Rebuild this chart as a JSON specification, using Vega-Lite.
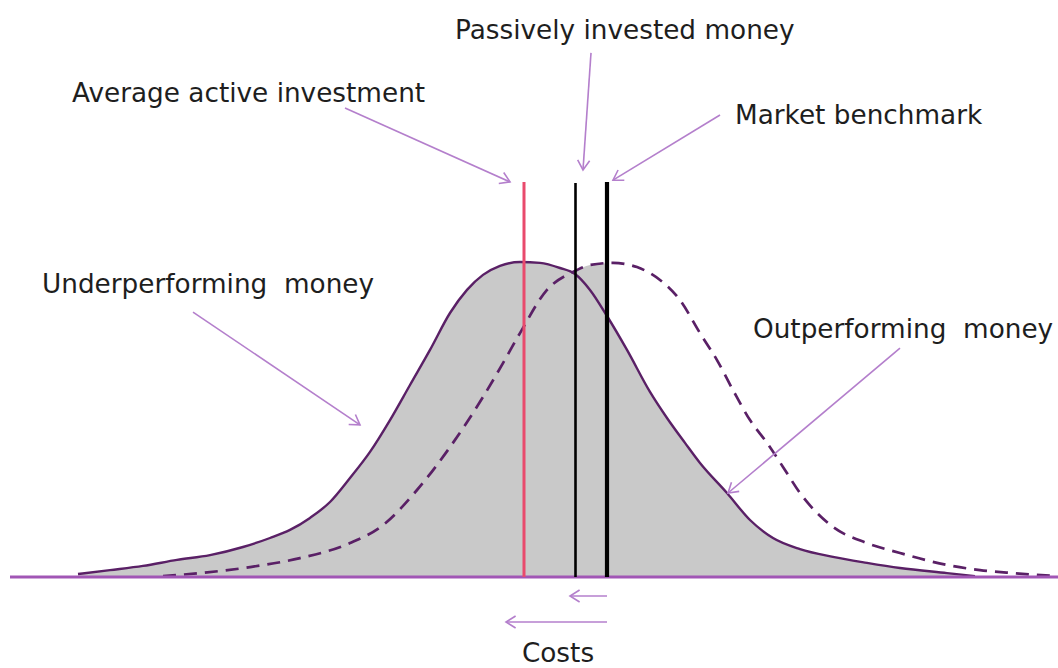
{
  "$schema": "https://vega.github.io/schema/vega-lite/v6.json",
  "width": 1058,
  "height": 668,
  "autosize": {"type": "none"},
  "padding": 0,
  "background": "white",
  "config": {"view": {"stroke": null}},
  "datasets": {
    "solid": [
      {"x": 7.8, "y": 1.0}, {"x": 11.0, "y": 2.3}, {"x": 14.3, "y": 3.7}, {"x": 17.7, "y": 5.7},
      {"x": 21.0, "y": 7.3}, {"x": 24.3, "y": 10.0}, {"x": 27.0, "y": 13.0}, {"x": 29.0, "y": 15.7},
      {"x": 31.0, "y": 19.7}, {"x": 33.0, "y": 25.0}, {"x": 35.0, "y": 33.0}, {"x": 37.0, "y": 41.7},
      {"x": 39.0, "y": 52.3}, {"x": 41.0, "y": 64.0}, {"x": 43.0, "y": 75.7}, {"x": 45.0, "y": 88.0},
      {"x": 46.7, "y": 95.7}, {"x": 48.3, "y": 100.7}, {"x": 50.0, "y": 103.7}, {"x": 52.0, "y": 105.0},
      {"x": 54.0, "y": 104.7}, {"x": 56.0, "y": 103.0}, {"x": 57.5, "y": 101.0}, {"x": 59.0, "y": 95.7},
      {"x": 60.7, "y": 87.0}, {"x": 62.7, "y": 75.7}, {"x": 65.0, "y": 61.7}, {"x": 66.7, "y": 53.0},
      {"x": 68.5, "y": 44.7}, {"x": 70.0, "y": 38.0}, {"x": 72.7, "y": 28.0}, {"x": 75.0, "y": 19.0},
      {"x": 77.3, "y": 13.0}, {"x": 80.0, "y": 9.3}, {"x": 83.3, "y": 6.7}, {"x": 86.7, "y": 4.7},
      {"x": 90.0, "y": 3.0}, {"x": 94.7, "y": 1.3}, {"x": 97.5, "y": 0.3}
    ],
    "dashed": [
      {"x": 16.3, "y": 0.3}, {"x": 20.0, "y": 1.3}, {"x": 25.0, "y": 3.3}, {"x": 30.0, "y": 6.3},
      {"x": 35.0, "y": 11.3}, {"x": 38.3, "y": 17.3}, {"x": 41.7, "y": 29.0}, {"x": 45.0, "y": 43.3},
      {"x": 48.3, "y": 60.0}, {"x": 50.3, "y": 71.3}, {"x": 52.0, "y": 81.3}, {"x": 54.7, "y": 95.7},
      {"x": 57.3, "y": 101.7}, {"x": 59.0, "y": 104.0}, {"x": 61.3, "y": 104.7}, {"x": 63.7, "y": 103.3},
      {"x": 66.0, "y": 99.0}, {"x": 68.0, "y": 92.3}, {"x": 70.0, "y": 81.3}, {"x": 71.7, "y": 72.3},
      {"x": 73.3, "y": 62.3}, {"x": 75.0, "y": 52.3}, {"x": 76.7, "y": 44.7}, {"x": 78.3, "y": 36.7},
      {"x": 80.0, "y": 28.0}, {"x": 83.3, "y": 16.7}, {"x": 86.7, "y": 11.3}, {"x": 90.0, "y": 8.0},
      {"x": 94.7, "y": 4.0}, {"x": 98.0, "y": 2.3}, {"x": 101.3, "y": 1.3}, {"x": 105.6, "y": 0.3}
    ],
    "wedge": [
      {"x": 57.5, "y": 101.9}, {"x": 59.0, "y": 104.0}, {"x": 60.7, "y": 104.6}
    ],
    "markers": [
      {"name": "Average active investment", "x": 52.4, "bottom": 0, "top": 131.7},
      {"name": "Passively invested money", "x": 57.55, "bottom": 0, "top": 131.3},
      {"name": "Market benchmark", "x": 60.7, "bottom": 0, "top": 131.7}
    ],
    "arrows": [
      {"id": "a1", "x1": 34.5, "y1": 156.3, "x2": 51.0, "y2": 131.7},
      {"id": "a2", "x1": 59.1, "y1": 174.7, "x2": 58.3, "y2": 135.7},
      {"id": "a3", "x1": 72.0, "y1": 154.0, "x2": 61.3, "y2": 132.3},
      {"id": "a4", "x1": 19.3, "y1": 88.3, "x2": 36.0, "y2": 50.7},
      {"id": "a5", "x1": 90.0, "y1": 76.3, "x2": 72.8, "y2": 28.0},
      {"id": "a6", "x1": 60.7, "y1": -6.33, "x2": 57.0, "y2": -6.33},
      {"id": "a7", "x1": 60.7, "y1": -15.0, "x2": 50.6, "y2": -15.0}
    ],
    "labels": [
      {"label": "Passively invested money", "x": 45.5, "y": 179.3},
      {"label": "Average active investment", "x": 7.2, "y": 158.3},
      {"label": "Market benchmark", "x": 73.5, "y": 151.0},
      {"label": "Underperforming\u00a0 money", "x": 4.2, "y": 94.7},
      {"label": "Outperforming\u00a0 money", "x": 75.3, "y": 79.7}
    ],
    "costs": [
      {"label": "Costs", "x": 55.8, "y": -28.4}
    ],
    "axisline": [
      {"x1": 1.0, "x2": 105.8, "y": 0}
    ]
  },
  "layer": [
    {
      "data": {"name": "solid"},
      "mark": {"type": "area", "interpolate": "monotone", "color": "#c9c9c9"},
      "encoding": {
        "x": {"field": "x", "type": "quantitative", "scale": {"domain": [0, 105.8], "nice": false, "zero": false}, "axis": null},
        "y": {"field": "y", "type": "quantitative", "scale": {"domain": [-30.333, 192.333], "nice": false, "zero": false}, "axis": null}
      }
    },
    {
      "data": {"name": "wedge"},
      "mark": {"type": "area", "interpolate": "monotone", "color": "#c9c9c9"},
      "encoding": {
        "x": {"field": "x", "type": "quantitative"},
        "y": {"field": "y", "type": "quantitative"}
      }
    },
    {
      "data": {"name": "dashed"},
      "mark": {"type": "line", "interpolate": "monotone", "color": "#5a2066", "strokeWidth": 2.7, "strokeDash": [13, 8]},
      "encoding": {
        "x": {"field": "x", "type": "quantitative"},
        "y": {"field": "y", "type": "quantitative"}
      }
    },
    {
      "data": {"name": "solid"},
      "mark": {"type": "line", "interpolate": "monotone", "color": "#5a2066", "strokeWidth": 2.4},
      "encoding": {
        "x": {"field": "x", "type": "quantitative"},
        "y": {"field": "y", "type": "quantitative"}
      }
    },
    {
      "data": {"name": "axisline"},
      "mark": {"type": "rule", "color": "#a156b5", "strokeWidth": 3},
      "encoding": {
        "x": {"field": "x1", "type": "quantitative"},
        "x2": {"field": "x2"},
        "y": {"field": "y", "type": "quantitative"}
      }
    },
    {
      "data": {"name": "markers"},
      "transform": [{"filter": "datum.name == 'Average active investment'"}],
      "mark": {"type": "rule", "color": "#e94a6d", "strokeWidth": 3},
      "encoding": {
        "x": {"field": "x", "type": "quantitative"},
        "y": {"field": "bottom", "type": "quantitative"},
        "y2": {"field": "top"}
      }
    },
    {
      "data": {"name": "markers"},
      "transform": [{"filter": "datum.name == 'Passively invested money'"}],
      "mark": {"type": "rule", "color": "#000000", "strokeWidth": 2.6},
      "encoding": {
        "x": {"field": "x", "type": "quantitative"},
        "y": {"field": "bottom", "type": "quantitative"},
        "y2": {"field": "top"}
      }
    },
    {
      "data": {"name": "markers"},
      "transform": [{"filter": "datum.name == 'Market benchmark'"}],
      "mark": {"type": "rule", "color": "#000000", "strokeWidth": 4.2},
      "encoding": {
        "x": {"field": "x", "type": "quantitative"},
        "y": {"field": "bottom", "type": "quantitative"},
        "y2": {"field": "top"}
      }
    },
    {
      "data": {"name": "arrows"},
      "mark": {"type": "rule", "color": "#b47fcc", "strokeWidth": 1.6},
      "encoding": {
        "x": {"field": "x1", "type": "quantitative"},
        "x2": {"field": "x2"},
        "y": {"field": "y1", "type": "quantitative"},
        "y2": {"field": "y2"}
      }
    },
    {
      "data": {"name": "arrows"},
      "transform": [{"filter": "datum.id == 'a1'"}],
      "mark": {"type": "point", "shape": "M-1.6,-1L0,0L-1.6,1", "filled": false, "color": "#b47fcc", "strokeWidth": 1.6, "size": 144, "opacity": 1, "angle": 24.2},
      "encoding": {
        "x": {"field": "x2", "type": "quantitative"},
        "y": {"field": "y2", "type": "quantitative"}
      }
    },
    {
      "data": {"name": "arrows"},
      "transform": [{"filter": "datum.id == 'a2'"}],
      "mark": {"type": "point", "shape": "M-1.6,-1L0,0L-1.6,1", "filled": false, "color": "#b47fcc", "strokeWidth": 1.6, "size": 144, "opacity": 1, "angle": 93.9},
      "encoding": {
        "x": {"field": "x2", "type": "quantitative"},
        "y": {"field": "y2", "type": "quantitative"}
      }
    },
    {
      "data": {"name": "arrows"},
      "transform": [{"filter": "datum.id == 'a3'"}],
      "mark": {"type": "point", "shape": "M-1.6,-1L0,0L-1.6,1", "filled": false, "color": "#b47fcc", "strokeWidth": 1.6, "size": 144, "opacity": 1, "angle": 148.7},
      "encoding": {
        "x": {"field": "x2", "type": "quantitative"},
        "y": {"field": "y2", "type": "quantitative"}
      }
    },
    {
      "data": {"name": "arrows"},
      "transform": [{"filter": "datum.id == 'a4'"}],
      "mark": {"type": "point", "shape": "M-1.6,-1L0,0L-1.6,1", "filled": false, "color": "#b47fcc", "strokeWidth": 1.6, "size": 144, "opacity": 1, "angle": 34.1},
      "encoding": {
        "x": {"field": "x2", "type": "quantitative"},
        "y": {"field": "y2", "type": "quantitative"}
      }
    },
    {
      "data": {"name": "arrows"},
      "transform": [{"filter": "datum.id == 'a5'"}],
      "mark": {"type": "point", "shape": "M-1.6,-1L0,0L-1.6,1", "filled": false, "color": "#b47fcc", "strokeWidth": 1.6, "size": 144, "opacity": 1, "angle": 139.9},
      "encoding": {
        "x": {"field": "x2", "type": "quantitative"},
        "y": {"field": "y2", "type": "quantitative"}
      }
    },
    {
      "data": {"name": "arrows"},
      "transform": [{"filter": "datum.id == 'a6' || datum.id == 'a7'"}],
      "mark": {"type": "point", "shape": "M-1.6,-1L0,0L-1.6,1", "filled": false, "color": "#b47fcc", "strokeWidth": 1.6, "size": 144, "opacity": 1, "angle": 180},
      "encoding": {
        "x": {"field": "x2", "type": "quantitative"},
        "y": {"field": "y2", "type": "quantitative"}
      }
    },
    {
      "data": {"name": "labels"},
      "mark": {"type": "text", "align": "left", "baseline": "alphabetic", "font": "DejaVu Sans", "fontSize": 26.3, "color": "#1e1e1e"},
      "encoding": {
        "x": {"field": "x", "type": "quantitative"},
        "y": {"field": "y", "type": "quantitative"},
        "text": {"field": "label"}
      }
    },
    {
      "data": {"name": "costs"},
      "mark": {"type": "text", "align": "center", "baseline": "alphabetic", "font": "DejaVu Sans", "fontSize": 26.3, "color": "#1e1e1e"},
      "encoding": {
        "x": {"field": "x", "type": "quantitative"},
        "y": {"field": "y", "type": "quantitative"},
        "text": {"field": "label"}
      }
    }
  ]
}
